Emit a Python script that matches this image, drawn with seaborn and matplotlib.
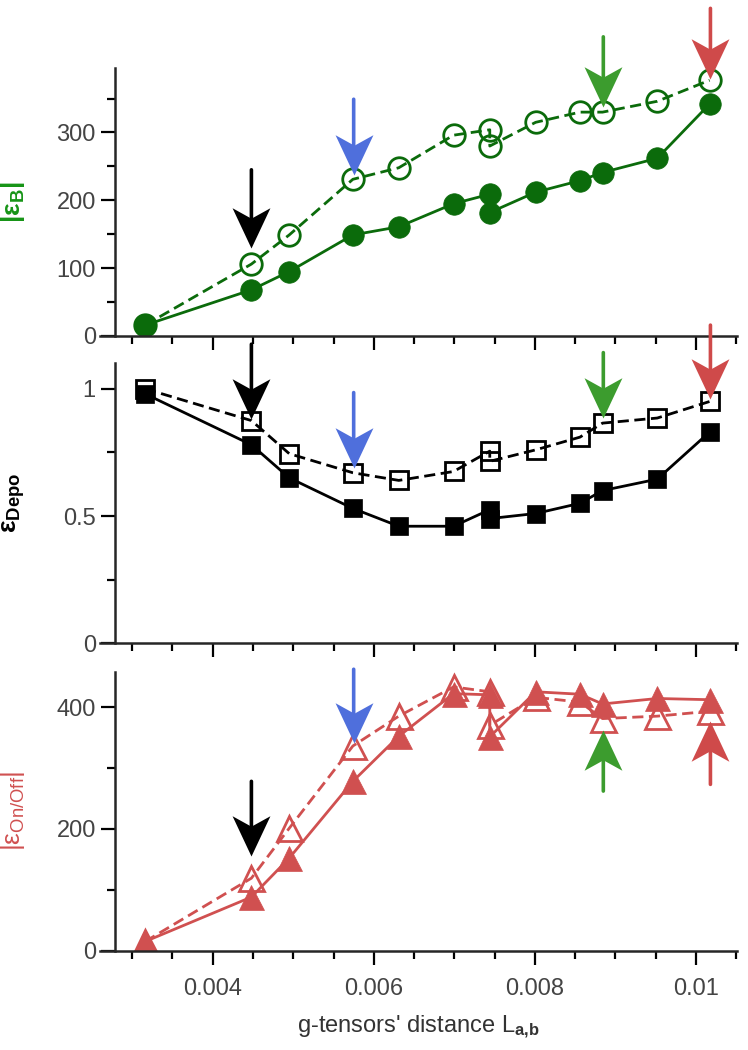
import numpy as np
import matplotlib
matplotlib.use("Agg")
import matplotlib.pyplot as plt
from matplotlib.ticker import MultipleLocator, FuncFormatter
from matplotlib.path import Path
import seaborn as sns

# g-tensors' distance (shared x)
dist = [0.00316, 0.00448, 0.00495, 0.00574, 0.00631, 0.00699, 0.00744, 0.00744,
        0.00801, 0.00856, 0.00884, 0.00952, 0.01017]

# panel 1: |eps_B|
epsB_filled = [16, 68, 95, 149, 161, 195, 209, 182, 212, 229, 241, 262, 342]
epsB_open = [16, 106, 149, 231, 248, 296, 304, 280, 315, 330, 330, 346, 377]

# panel 2: eps_Depo
depo_filled = [0.98, 0.78, 0.65, 0.53, 0.46, 0.46, 0.525, 0.49, 0.51, 0.55, 0.60, 0.645, 0.83]
depo_open = [1.0, 0.875, 0.745, 0.67, 0.64, 0.675, 0.755, 0.715, 0.76, 0.81, 0.865, 0.885, 0.95]

# panel 3: |eps_On/Off|
onoff_filled = [15, 88, 152, 278, 352, 422, 420, 351, 425, 421, 405, 414, 412]
onoff_open = [15, 119, 201, 336, 385, 433, 425, 370, 416, 408, 381, 385, 393]

# arrows (x, tail, tip, color)
arrow_x = [0.00448, 0.00575, 0.00885, 0.01018]
arrow_col = ["black", "#4f6fdc", "#3c9c2e", "#cf4a4a"]
arrows1_tail = [245, 349, 441, 483]
arrows1_tip = [129, 238, 337, 379]
arrows2_tail = [1.175, 0.985, 1.142, 1.25]
arrows2_tip = [0.88, 0.69, 0.886, 0.958]
arrows3_tail = [278, 462, 262, 273]
arrows3_tip = [155, 341, 363, 377]

dark_green = "#0b6b0b"
label_green = "#169416"
red = "#d05050"

sns.set_style("ticks")
plt.rcParams["font.family"] = ["Liberation Sans", "DejaVu Sans"]
plt.rcParams["mathtext.fontset"] = "custom"
plt.rcParams["mathtext.rm"] = "Liberation Sans"
plt.rcParams["mathtext.bf"] = "Liberation Sans:bold"
plt.rcParams["mathtext.it"] = "Liberation Sans:italic"

fig = plt.figure(figsize=(7.48, 10.5), dpi=100)
left, width = 100 / 748, 637 / 748
ax1 = fig.add_axes([left, 0.680, width, 0.2552])
ax2 = fig.add_axes([left, 0.3873, width, 0.2667])
ax3 = fig.add_axes([left, 0.0946, width, 0.2657])

head_down = Path([(0, 0), (-0.47, 1.0), (0, 0.74), (0.47, 1.0), (0, 0)],
                 [Path.MOVETO, Path.LINETO, Path.LINETO, Path.LINETO, Path.CLOSEPOLY])
head_up = Path([(0, 0), (-0.47, -1.0), (0, -0.74), (0.47, -1.0), (0, 0)],
               [Path.MOVETO, Path.LINETO, Path.LINETO, Path.LINETO, Path.CLOSEPOLY])


def draw_arrows(ax, tails, tips):
    for x, t0, t1, c in zip(arrow_x, tails, tips, arrow_col):
        ax.annotate("", xy=(x, t1), xytext=(x, t0),
                    arrowprops=dict(arrowstyle="-", lw=2.6, color=c,
                                    shrinkA=0, shrinkB=14),
                    annotation_clip=False, zorder=5)
        ax.plot(x, t1, marker=head_down if t0 > t1 else head_up, ms=58,
                color=c, mec=c, mew=0, clip_on=False, zorder=6)


def series(ax, y, color, marker, ms, filled):
    kw = dict(color=color, marker=marker, markersize=ms, markeredgecolor=color,
              markeredgewidth=2.0 if not filled else 0.5, lw=2.0,
              sort=False, estimator=None, ax=ax)
    if filled:
        sns.lineplot(x=dist, y=y, markerfacecolor=color, **kw)
    else:
        sns.lineplot(x=dist, y=y, markerfacecolor="none",
                     linestyle=(0, (4, 2)), **kw)


series(ax1, epsB_open, dark_green, "o", 15.5, False)
series(ax1, epsB_filled, dark_green, "o", 15.5, True)
series(ax2, depo_open, "black", "s", 13.5, False)
series(ax2, depo_filled, "black", "s", 13.5, True)
series(ax3, onoff_open, red, "^", 18, False)
series(ax3, onoff_filled, red, "^", 18, True)

draw_arrows(ax1, arrows1_tail, arrows1_tip)
draw_arrows(ax2, arrows2_tail, arrows2_tip)
draw_arrows(ax3, arrows3_tail, arrows3_tip)

fmt = FuncFormatter(lambda v, p: "%g" % v)
for ax, ylim, major, minor in [(ax1, 395, 100, 50), (ax2, 1.1, 0.5, 0.25), (ax3, 458, 200, 100)]:
    ax.set_xlim(0.0026, 0.01051)
    ax.set_ylim(0, ylim)
    ax.spines["top"].set_visible(False)
    ax.spines["right"].set_visible(False)
    ax.spines["left"].set_position(("data", 0.00279))
    for s in ("left", "bottom"):
        ax.spines[s].set_linewidth(1.8)
    ax.xaxis.set_major_locator(MultipleLocator(0.002))
    ax.xaxis.set_minor_locator(MultipleLocator(0.0005))
    ax.yaxis.set_major_locator(MultipleLocator(major))
    ax.yaxis.set_minor_locator(MultipleLocator(minor))
    ax.xaxis.set_major_formatter(fmt)
    ax.yaxis.set_major_formatter(fmt)
    ax.tick_params(which="major", length=10, width=1.6, labelsize=17,
                   labelcolor="#444444", color="black")
    ax.tick_params(which="minor", length=5.5, width=1.6, color="black")
    ax.tick_params(axis="y", pad=4)
    ax.tick_params(axis="x", pad=10)
    ax.set_xlabel("")
    ax.set_ylabel("")

ax1.tick_params(axis="x", labelbottom=False)
ax2.tick_params(axis="x", labelbottom=False)

ax1.set_ylabel(r"|ε$_{\mathbf{B}}$|", fontsize=19, fontweight="bold", color=label_green)
ax2.set_ylabel(r"ε$_{\mathbf{Depo}}$", fontsize=19, fontweight="bold", color="black")
ax3.set_ylabel(r"|ε$_{\mathrm{On/Off}}$|", fontsize=19, color=red)
for ax in (ax1, ax2, ax3):
    ax.yaxis.set_label_coords(-0.115, 0.5)

ax3.set_xlabel(r"g-tensors' distance L$_{\mathbf{a{,}b}}$", fontsize=17, color="#333333",
               labelpad=10)

fig.savefig("out.png", dpi=100)
